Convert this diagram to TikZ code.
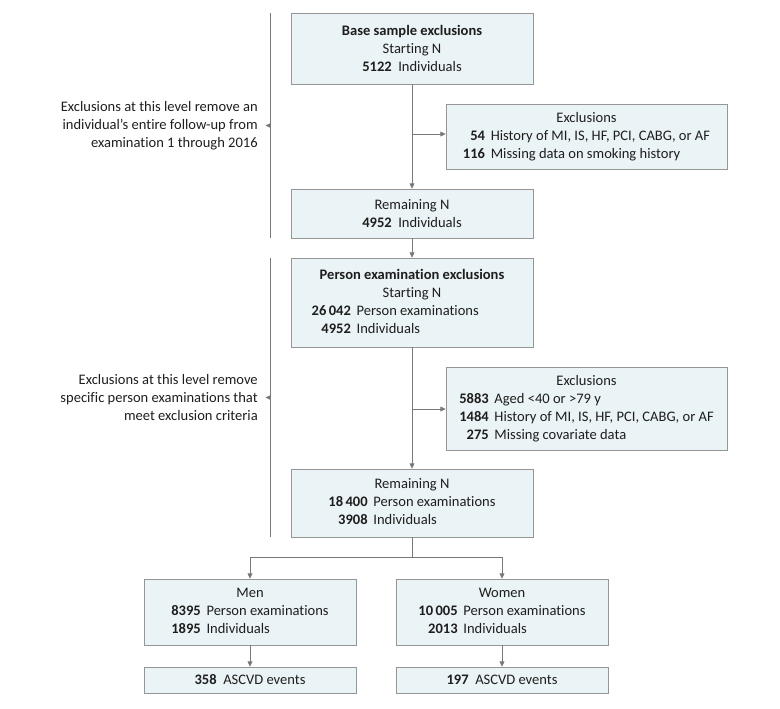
\documentclass[tikz,border=0pt]{standalone}
\usepackage{fontspec}
\setmainfont[Ligatures={NoCommon}]{Carlito}
\usepackage{tikz}
\usetikzlibrary{arrows.meta,positioning}
\definecolor{boxfill}{RGB}{234,243,245}
\definecolor{boxline}{RGB}{150,150,150}
\definecolor{linegray}{RGB}{120,120,120}
\definecolor{txt}{RGB}{30,30,30}
\newcommand{\nb}[1]{\textbf{#1}}

\begin{document}
\begin{tikzpicture}[x=0.75pt, y=-0.75pt,
  font=\fontsize{10.9}{13.5}\selectfont, text=txt,
  box/.style={draw=boxline, fill=boxfill, inner sep=0pt, align=center},
  mainbox/.style={box, minimum width=181.5pt},
  exclbox/.style={box, minimum width=210.75pt},
  sidebox/.style={box, minimum width=159pt},
  arr/.style={draw=linegray, line width=0.6pt, -{Triangle[length=4pt,width=3.6pt]}},
  ln/.style={draw=linegray, line width=0.6pt}]
  \useasboundingbox (0,0) rectangle (780,708);

  \node (base) [mainbox, minimum height=53.25pt] at (412,48.5)
    {\nb{Base sample exclusions}\\Starting N\\\nb{5122}\ \ Individuals};
  \node (rem1) [mainbox, minimum height=36.75pt] at (412,213.5)
    {Remaining N\\\nb{4952}\ \ Individuals};
  \node (excl1) [exclbox, minimum height=48.75pt] at (586.5,136.5)
    {\begin{tabular}{@{}r@{\ \,}l@{}}
      \multicolumn{2}{c}{Exclusions}\\
      \nb{54} & History of MI, IS, HF, PCI, CABG, or AF\\
      \nb{116} & Missing data on smoking history
    \end{tabular}};
  \node (pers) [mainbox, minimum height=66.75pt] at (412,302.5)
    {\begin{tabular}{@{}r@{\ \,}l@{}}
      \multicolumn{2}{c}{\nb{Person examination exclusions}}\\
      \multicolumn{2}{c}{Starting N}\\
      \nb{26\,042} & Person examinations\\
      \nb{4952} & Individuals
    \end{tabular}};
  \node (excl2) [exclbox, minimum height=62.25pt] at (586.5,408.5)
    {\begin{tabular}{@{}r@{\ \,}l@{}}
      \multicolumn{2}{c}{Exclusions}\\
      \nb{5883} & Aged <40 or >79 y\\
      \nb{1484} & History of MI, IS, HF, PCI, CABG, or AF\\
      \nb{275} & Missing covariate data
    \end{tabular}};
  \node (rem2) [mainbox, minimum height=51pt] at (412,503)
    {\begin{tabular}{@{}r@{\ \,}l@{}}
      \multicolumn{2}{c}{Remaining N}\\
      \nb{18\,400} & Person examinations\\
      \nb{3908} & Individuals
    \end{tabular}};
  \node (men) [sidebox, minimum height=49.5pt] at (250,612)
    {\begin{tabular}{@{}r@{\ \,}l@{}}
      \multicolumn{2}{c}{Men}\\
      \nb{8395} & Person examinations\\
      \nb{1895} & Individuals
    \end{tabular}};
  \node (women) [sidebox, minimum height=49.5pt] at (502,612)
    {\begin{tabular}{@{}r@{\ \,}l@{}}
      \multicolumn{2}{c}{Women}\\
      \nb{10\,005} & Person examinations\\
      \nb{2013} & Individuals
    \end{tabular}};
  \node (evmen) [sidebox, minimum height=19.5pt] at (250,680)
    {\nb{358}\ \ ASCVD events};
  \node (evwomen) [sidebox, minimum height=19.5pt] at (502,680)
    {\nb{197}\ \ ASCVD events};

  % main column
  \coordinate (b1) at (412,134);
  \coordinate (b2) at (412,409);
  \draw[arr] (base) -- (rem1);
  \draw[arr] (b1) -- (b1 -| excl1.west);
  \draw[arr] (rem1) -- (pers);
  \draw[arr] (pers) -- (rem2);
  \draw[arr] (b2) -- (b2 -| excl2.west);

  % split by sex
  \coordinate (split) at (412,557);
  \draw[ln] (rem2) -- (split);
  \draw[arr] (split) -| (men);
  \draw[arr] (split) -| (women);
  \draw[arr] (men) -- (evmen);
  \draw[arr] (women) -- (evwomen);

  % level brackets
  \coordinate (l1t) at (270,13);
  \coordinate (l1b) at (270,238);
  \coordinate (l2t) at (270,258);
  \coordinate (l2b) at (270,537);
  \draw[ln] (l1t) -- (l1b);
  \draw[ln] (l2t) -- (l2b);
  \coordinate (m1) at (270,125.5);
  \coordinate (m2) at (270,397.5);
  \draw[arr] (m1) -- ++(-4.5,0) coordinate (t1);
  \draw[arr] (m2) -- ++(-4.5,0) coordinate (t2);
  \node (note1) [anchor=east, align=right, inner sep=0pt] at (258,125.5)
    {Exclusions at this level remove an\\individual's entire follow-up from\\examination 1 through 2016};
  \node (note2) [anchor=east, align=right, inner sep=0pt] at (258,397.5)
    {Exclusions at this level remove\\specific person examinations that\\meet exclusion criteria};
\end{tikzpicture}
\end{document}
